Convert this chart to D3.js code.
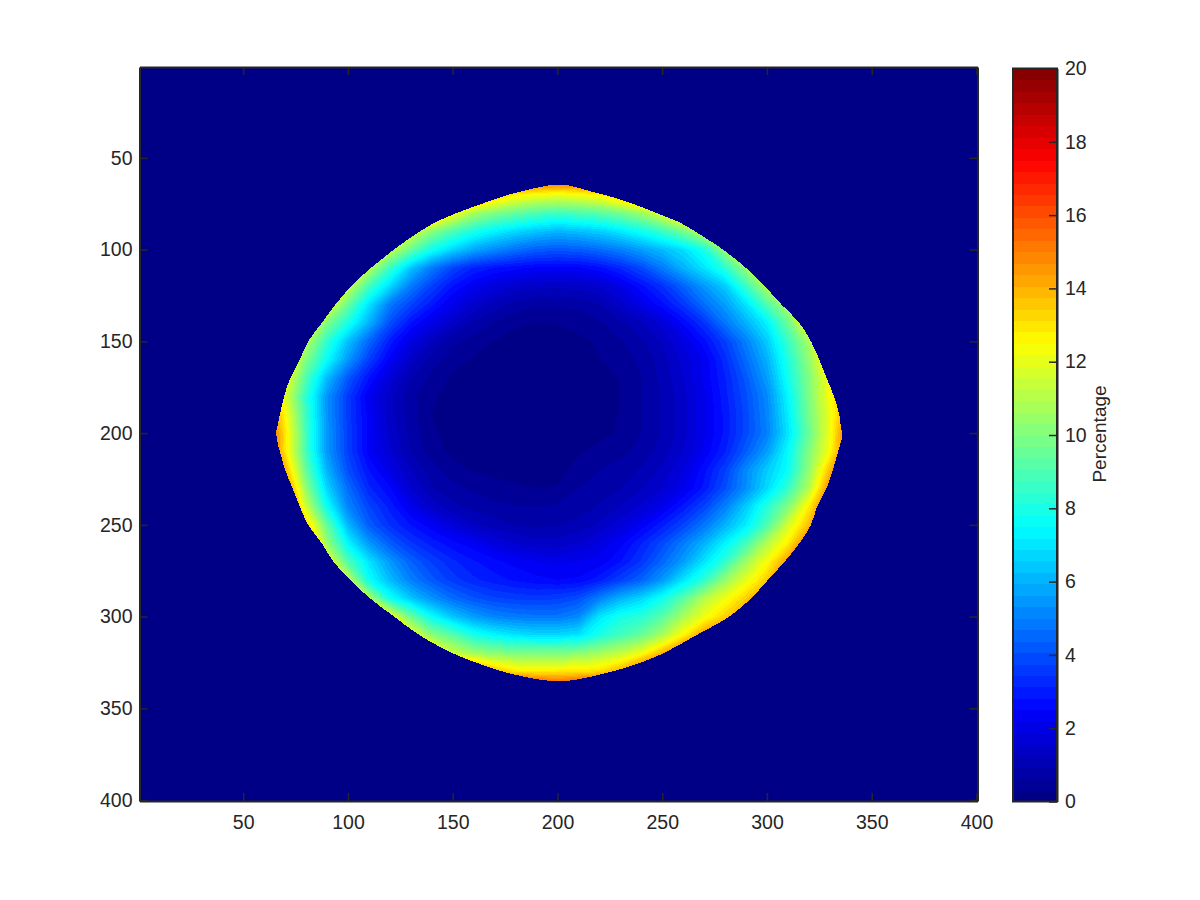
<!DOCTYPE html>
<html>
<head>
<meta charset="utf-8">
<script src="https://cdn.jsdelivr.net/npm/d3@7"></script>
<style>
html,body{margin:0;padding:0;background:#fff;}
svg{display:block;}
text{font-family:"Liberation Sans",Arial,sans-serif;fill:#262626;}
</style>
</head>
<body>
<svg id="chart" width="1200" height="900"></svg>
<script>
// Sampled grid: columns x = 60..340, rows y = 60..340, step 10 (percentage).
// Cells outside the outline carry the outward trend and are hidden by the outline mask.
const gridXs = d3.range(60, 341, 10);
const gridYs = d3.range(60, 341, 10);
const percentGrid = [
[20,20,20,20,20,20,20,20,20,20,20,19,18,17.2,17,17.2,18,19,20,20,20,20,20,20,20,20,20,20,20],
[20,20,20,20,20,20,20,20,20,18,16,14,12.8,12.4,12.2,12.4,12.8,14,15.5,17,20,20,20,20,20,20,20,20,20],
[20,20,20,20,20,19,18,17,15,12.5,10.8,10,9.5,9,8.8,9,9.3,9.8,10.6,12,14,16,17,18,20,20,20,20,20],
[20,20,20,20,18,17,15,12,10.2,9,8,7.3,6.8,6.4,6.1,6.3,6.6,7.1,7.8,8.6,9.8,11.5,13.5,15,17,18,20,20,20],
[20,20,19,18,15,13.5,11.5,9.5,7.8,6.7,5.8,5.2,4.7,4.3,4.2,4.3,4.6,5,5.6,6.2,6.9,8,10.5,12.5,14.5,16,18,20,20],
[20,20,18,16,13.5,11.2,8.6,6.4,4.9,3.8,3.1,2.8,2.6,2.44,2.38,2.44,2.7,3.2,3.9,4.9,6,7,8.3,10.5,12.5,14.5,16,18,20],
[20,18,16,14,11.5,8.8,6.8,4.9,3.7,2.8,2.2,1.8,1.5,1.35,1.32,1.38,1.56,2,2.7,3.4,4.4,5.5,6.5,8.6,11,13,15,17,20],
[19,17,15,12.5,9.5,7,4.9,3.8,2.9,2.1,1.5,1.1,.82,.67,.67,.72,.92,1.44,2,2.7,3.5,4.6,5.6,7,9,11,13.5,16,19],
[18,15.5,13,10,8,6,4,2.8,2,1.4,.9,.6,.35,.3,.33,.42,.58,.85,1.2,1.68,2.55,3.45,4.8,6,7.3,9.5,13,15.5,18],
[17,14.5,11.2,8.4,6.3,4.5,3,1.95,1.2,.72,.45,.3,.2,.16,.17,.24,.36,.58,.88,1.3,1.9,2.7,3.7,5,6.5,8.6,10.8,14.5,17],
[16,13.5,10,7.6,5.5,3.7,2.38,1.4,.8,.45,.27,.18,.15,.15,.15,.17,.3,.45,.7,1.08,1.68,2.25,3.3,4.6,6,8.1,10.3,13.5,16],
[15,12.5,9,6.2,4.2,2.8,1.74,.97,.52,.26,.18,.15,.15,.15,.15,.15,.19,.33,.62,1.03,1.56,2.25,3.1,4.2,5.6,7.8,10,12.5,15],
[15,11.8,8.4,5.4,3.6,2.25,1.38,.72,.36,.21,.15,.15,.15,.15,.15,.15,.18,.31,.62,.97,1.44,2.13,3,4,5.2,7.4,9.9,12.4,14.5],
[16,12.6,8.6,5.4,3.6,2.38,1.38,.77,.31,.2,.15,.15,.15,.15,.15,.15,.18,.33,.62,.97,1.44,2.13,2.9,3.9,5.1,7.2,9.8,12.1,15],
[17,13,8.8,5.5,3.7,2.38,1.5,.82,.36,.2,.18,.15,.15,.15,.15,.15,.2,.36,.62,.97,1.44,2.13,2.9,3.9,5,7,9.5,12.2,16],
[17,13,8.8,5.5,3.7,2.38,1.62,.92,.47,.23,.18,.15,.15,.15,.15,.26,.44,.54,.72,1.08,1.56,2.25,3.1,4.3,5.6,7.5,10,12.4,16],
[18,14,9.4,6,4,2.8,2,1.26,.77,.44,.28,.21,.19,.19,.21,.44,.62,.77,.97,1.32,1.86,2.7,3.7,5.2,6.5,7.6,10.3,13.8,17],
[19,15.5,10.3,6.7,4.6,3.2,2.55,1.56,.97,.72,.57,.44,.36,.31,.33,.62,.77,.92,1.2,1.56,2.13,2.9,4,5.3,6.8,8.5,11,15,18],
[20,17,11.5,7.7,5.1,3.8,3,2.13,1.44,1.03,.82,.7,.64,.62,.67,.77,.97,1.26,1.62,2.13,2.9,3.8,5,6.5,8.2,10,12.8,16,19],
[20,18,13.5,9.4,6.1,4.3,3.4,2.8,2.3,1.74,1.32,1.08,.92,.87,.92,1.03,1.32,1.74,2.3,3,3.8,4.8,6,7.2,9,11.6,13.8,17,20],
[20,20,16,10.5,7.4,5.5,4.3,3.5,3,2.6,2.3,1.86,1.56,1.38,1.38,1.56,1.93,2.38,3.1,3.9,4.9,6,7.3,8.8,11,12.8,15.5,18,20],
[20,20,20,12.5,9,7,5.5,4.4,3.7,3.2,2.85,2.6,2.38,2.2,2.13,2.2,2.3,2.8,3.5,4.5,5.6,7,8.4,10.6,12.4,14.5,17,20,20],
[20,20,20,16,11.5,7.7,6.2,5,4.2,3.6,3.2,2.95,2.75,2.6,2.5,2.55,3,3.7,4.4,5.5,7,8.4,10.4,12,13.5,16,20,20,20],
[20,20,20,18,14.5,11,7.8,6.4,5.4,4.6,4.1,3.8,3.65,3.6,3.7,4,5,6,6.7,7.8,9.2,11,12.2,13.4,15.5,18,20,20,20],
[20,20,20,20,17,15,12.5,9.6,7.6,6.4,5.6,5.1,4.9,4.8,4.8,5.2,7,7.9,8.3,9.2,10.8,12.2,13.4,15,17,20,20,20,20],
[20,20,20,20,20,18,16,12.5,10.2,9.2,8,7.4,7,6.8,6.8,7,8,8.8,9.5,10.8,12.6,14.5,16,18,20,20,20,20,20],
[20,20,20,20,20,20,19,17,14,11.5,10.6,10.2,10,10,10,10.2,10.7,11.3,12.3,14,16,18,20,20,20,20,20,20,20],
[20,20,20,20,20,20,20,20,20,18,16,14,13,12.9,13,13,13.2,14.2,16,18,20,20,20,20,20,20,20,20,20],
[20,20,20,20,20,20,20,20,20,20,20,20,19,18,17,18,19,20,20,20,20,20,20,20,20,20,20,20,20]
];

// Outline of the non-zero region, read row by row.
const edgeRows  = [65,68,71,75,80,85,90,95,100,110,120,130,140,150,160,170,180,190,198,200,202,206,210,220,230,240,250,260,270,280,290,300,310,320,325,329,333,335];
const edgeLeft  = [196,184,174,164,152,142,134.5,128,122,111,101.5,94,87.5,81,77,72.5,69.5,67.5,66,65.5,66,66.5,67.5,70,73.5,77,81,87.5,93,101,110.5,122,134,150,161,171,185,196];
const edgeRight = [205,215,225,236,247,258,265.5,272.5,279,290,299,307,315.5,321,325,328.5,332,334.5,335.5,336,336,335,334,331.5,328.5,324,321,315.5,308.5,300.5,292.5,282,266.5,250.5,240,229,215,205];

const axisXTicks = [50,100,150,200,250,300,350,400];
const axisYTicks = [50,100,150,200,250,300,350,400];
const colorbarTicks = [0,2,4,6,8,10,12,14,16,18,20];
const colorbarTitle = "Percentage";
const levelCount = 64;

const ink = "#262626";
const W = 1200, H = 900;
const svg = d3.select("#chart");

const x = d3.scaleLinear().domain([0.5,400.5]).range([139.5,977.5]);
const y = d3.scaleLinear().domain([0.5,400.5]).range([67,801]);
const cb = d3.scaleLinear().domain([0,20]).range([801.5,68.5]);

// MATLAB "jet" colormap
function jet(k){
  const t = (k+0.5)/levelCount;
  const c = v => Math.round(255*Math.max(0,Math.min(1,v)));
  const r = c(Math.min(4*t-1.5, -4*t+4.5));
  const g = c(Math.min(4*t-0.5, -4*t+3.5));
  const b = c(Math.min(4*t+0.5, -4*t+2.5));
  return `rgb(${r},${g},${b})`;
}
const levelStep = 20/levelCount;
const levelIds = d3.range(levelCount);

// Heat image
const plot = svg.append("g").attr("shape-rendering","crispEdges");
plot.append("rect")
  .attr("x",x(0.5)).attr("y",y(0.5))
  .attr("width",x(400.5)-x(0.5)).attr("height",y(400.5)-y(0.5))
  .attr("fill",jet(0));

const flat = percentGrid.flat();
const contours = d3.contours()
  .size([gridXs.length,gridYs.length])
  .smooth(true)
  .thresholds(levelIds.slice(1).map(k=>k*levelStep))(flat);

const cellX = gridXs[1]-gridXs[0], cellY = gridYs[1]-gridYs[0];
const project = d3.geoTransform({
  point(px,py){
    this.stream.point(x(gridXs[0]+(px-0.5)*cellX), y(gridYs[0]+(py-0.5)*cellY));
  }
});
const geo = d3.geoPath(project);

plot.selectAll("path.band").data(contours).enter().append("path")
  .attr("class","band")
  .attr("d",geo)
  .attr("fill",(d,i)=>jet(i+1));

// Everything outside the outline is the zero level.
const outline = edgeRows.map((r,i)=>[edgeLeft[i],r])
  .concat(edgeRows.map((r,i)=>[edgeRight[i],r]).reverse());
const outlinePath = d3.line().x(d=>x(d[0])).y(d=>y(d[1]))
  .curve(d3.curveCatmullRomClosed.alpha(0.5))(outline);
const framePath = `M${x(0.5)},${y(0.5)}H${x(400.5)}V${y(400.5)}H${x(0.5)}Z`;
plot.append("path")
  .attr("d",framePath+outlinePath)
  .attr("fill-rule","evenodd")
  .attr("fill",jet(0));

// Axes (ticks inward on all four sides)
function styleAxis(g){
  g.selectAll("path").attr("stroke",ink).attr("stroke-width",2);
  g.selectAll("line").attr("stroke",ink).attr("stroke-width",1.5);
  g.selectAll("text").attr("font-size",19.5).attr("fill",ink)
    .style("font-family",'"Liberation Sans",Arial,sans-serif');
}
const tickLen = 8;
svg.append("g").attr("transform",`translate(0,${y(400.5)})`)
  .call(d3.axisBottom(x).tickValues(axisXTicks).tickSizeInner(-tickLen).tickSizeOuter(0).tickPadding(tickLen+6))
  .call(styleAxis);
svg.append("g").attr("transform",`translate(0,${y(0.5)})`)
  .call(d3.axisTop(x).tickValues(axisXTicks).tickSizeInner(-tickLen).tickSizeOuter(0).tickFormat(""))
  .call(styleAxis);
svg.append("g").attr("transform",`translate(${x(0.5)},0)`)
  .call(d3.axisLeft(y).tickValues(axisYTicks).tickSizeInner(-tickLen).tickSizeOuter(0).tickPadding(7))
  .call(styleAxis);
svg.append("g").attr("transform",`translate(${x(400.5)},0)`)
  .call(d3.axisRight(y).tickValues(axisYTicks).tickSizeInner(-tickLen).tickSizeOuter(0).tickFormat(""))
  .call(styleAxis);

// Colorbar
const cbLeft = 1013, cbRight = 1057;
svg.append("g").attr("shape-rendering","crispEdges")
  .selectAll("rect").data(levelIds).enter().append("rect")
  .attr("x",cbLeft).attr("width",cbRight-cbLeft)
  .attr("y",k=>cb((k+1)*levelStep))
  .attr("height",k=>cb(k*levelStep)-cb((k+1)*levelStep)+0.5)
  .attr("fill",k=>jet(k));
svg.append("rect")
  .attr("x",cbLeft).attr("y",cb(20))
  .attr("width",cbRight-cbLeft).attr("height",cb(0)-cb(20))
  .attr("fill","none").attr("stroke",ink).attr("stroke-width",2);
svg.append("g").attr("transform",`translate(${cbRight},0)`)
  .call(d3.axisRight(cb).tickValues(colorbarTicks).tickSizeInner(-tickLen).tickSizeOuter(0).tickPadding(8))
  .call(styleAxis);

svg.append("text")
  .attr("transform",`translate(1106,434) rotate(-90)`)
  .attr("text-anchor","middle")
  .attr("font-size",19)
  .text(colorbarTitle);
</script>
</body>
</html>
